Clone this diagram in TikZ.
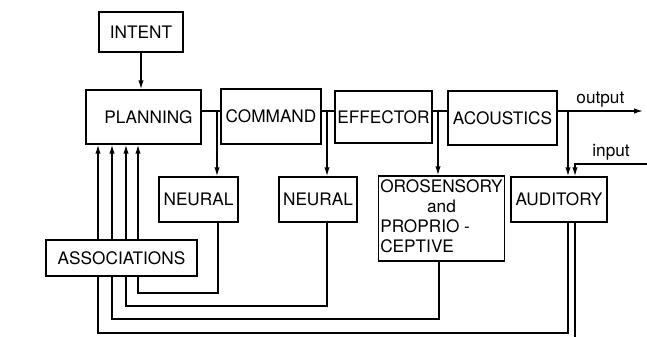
\documentclass[tikz,border=0pt]{standalone}
\usepackage{fontspec}
\setmainfont{TeX Gyre Heros}
\usepackage{tikz}
\usetikzlibrary{arrows.meta, positioning}

\tikzset{
    blk/.style={draw, line width=0.9pt, inner sep=1pt, align=center, fill=white},
    sig/.style={line width=0.75pt},
    sigarr/.style={sig, -{Latex[length=5pt, width=3pt]}}
}

\begin{document}
\begin{tikzpicture}[x=0.02cm, y=-0.02cm, font=\fontsize{9.8}{11.5}\selectfont]
    \useasboundingbox (0,0) rectangle (647,337);
    % boxes
    \node[blk, minimum width=1.68cm, minimum height=0.8cm] (intent) at (141,32) {INTENT};
    \node[blk, minimum width=2.3cm, minimum height=1.08cm] (plan) at (143.5,117) {\hspace{0.2cm}PLANNING};
    \node[blk, minimum width=2.0cm, minimum height=1.1cm] (cmd) at (271,116.5) {COMMAND};
    \node[blk, minimum width=1.94cm, minimum height=1.04cm] (eff) at (383.5,117) {EFFECTOR};
    \node[blk, minimum width=2.18cm, minimum height=1.08cm] (aco) at (502.5,118) {ACOUSTICS};
    \node[blk, minimum width=1.58cm, minimum height=0.9cm] (neu1) at (198.5,199.5) {NEURAL};
    \node[blk, minimum width=1.56cm, minimum height=0.9cm] (neu2) at (318,199.5) {NEURAL};
    \node[blk, minimum width=2.46cm, minimum height=1.7cm] (oro) at (441.5,218.5)
        {\begin{tabular}{@{}l@{}}OROSENSORY\\\multicolumn{1}{@{}c@{}}{and}\\PROPRIO -\\CEPTIVE\end{tabular}};
    \node[blk, minimum width=1.92cm, minimum height=0.9cm] (aud) at (559,199.5) {AUDITORY};
    \node[blk, line width=1.6pt, minimum width=3.02cm, minimum height=0.72cm] (assoc) at (121.5,258) {ASSOCIATIONS};

    % forward chain
    \coordinate (chain) at (0,111);
    \coordinate (out) at (643,111);
    \coordinate (in) at (647,164);
    \draw[sigarr] (intent.south) -- (intent.south |- plan.north);
    \draw[sig] (plan.east |- chain) -- (cmd.west |- chain);
    \draw[sig] (cmd.east |- chain) -- (eff.west |- chain);
    \draw[sig] (eff.east |- chain) -- (aco.west |- chain);
    \draw[sigarr] (aco.east |- chain) -- node[above, inner sep=2pt] {output} (out);
    \draw[sigarr] (in) -- node[above, inner sep=2pt] {input} (575,164) -- (aud.north -| 575,0);
    \foreach \x/\tgt in {217/neu1, 327/neu2, 438/oro, 568/aud}
        \draw[sigarr] (\x,111) -- (\tgt.north -| \x,0);

    % feedback to planning
    \foreach \x in {98,112,126,138}
        \draw[sigarr] (assoc.north -| \x,0) -- (plan.south -| \x,0);
    \foreach \x/\yb/\xb/\tgt in {138/293/218/neu1, 126/306/327/neu2, 112/319/439/oro, 98/333/568/aud}
        \draw[sig] (assoc.south -| \x,0) |- (\xb,\yb) -- (\tgt.south -| \xb,0);
    \draw[sig] (aud.south -| 575,0) -- (575,337);
\end{tikzpicture}
\end{document}
